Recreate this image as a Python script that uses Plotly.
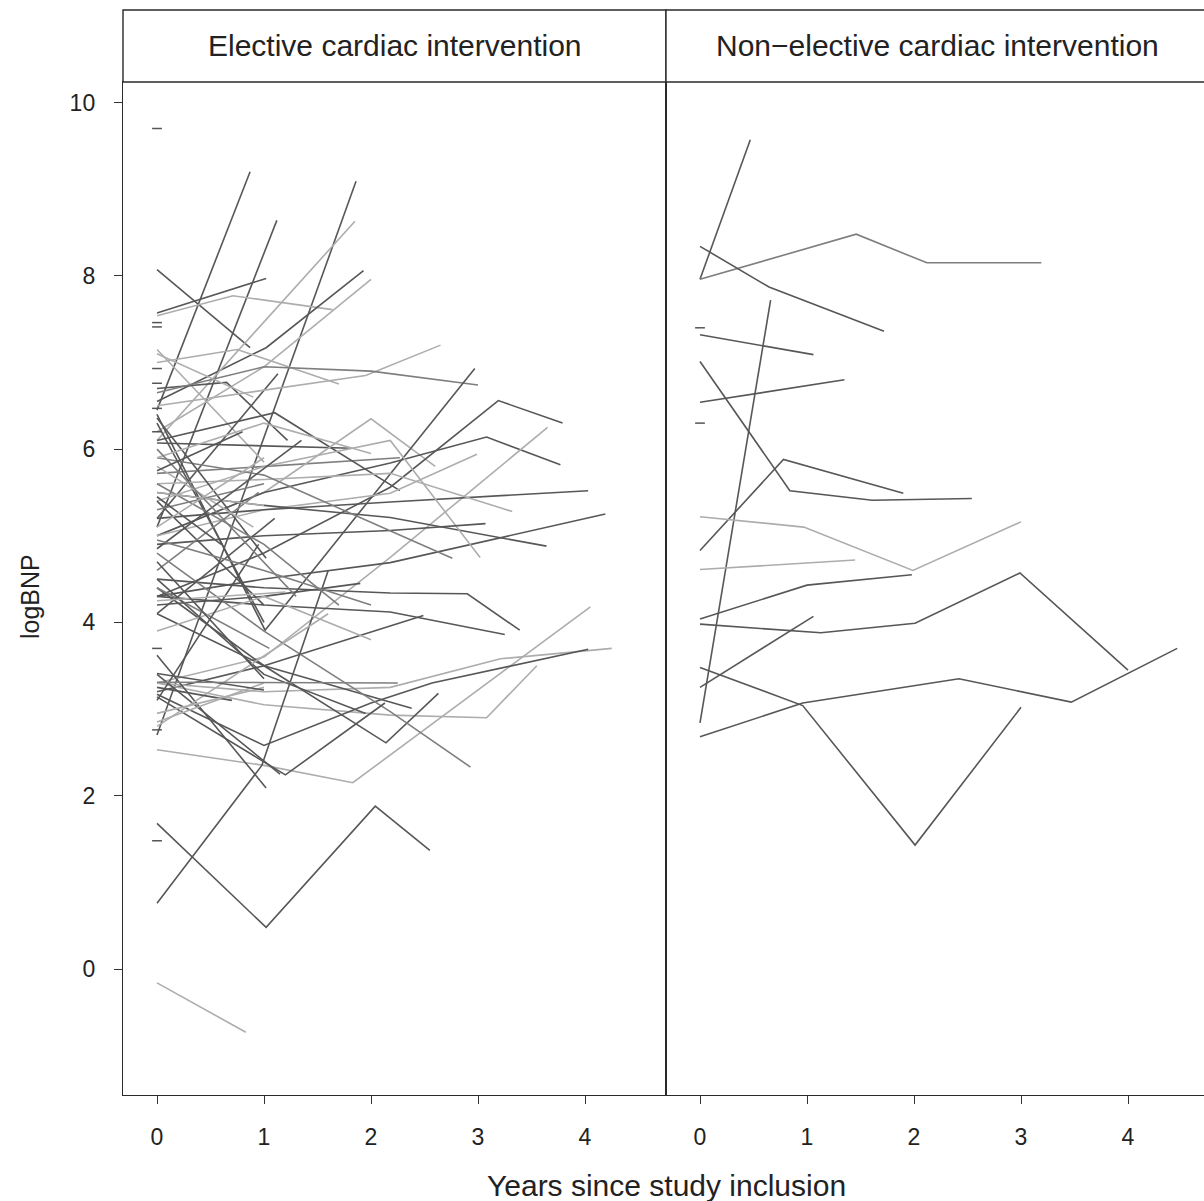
import plotly.graph_objects as go

# ---------------- data ----------------
panel_titles = ["Elective cardiac intervention", "Non\u2212elective cardiac intervention"]
x_title = "Years since study inclusion"
y_title = "logBNP"
x_ticks = [0, 1, 2, 3, 4]
y_ticks = [0, 2, 4, 6, 8, 10]

elective_years = [
    [0, 0.87], [0, 1.12], [0, 1.86], [0, 0.87], [0, 1.02],
    [0, 0.71, 1.64], [0, 1.02, 1.93], [0, 1.0, 2.0], [0, 1.85], [0, 1.0],
    [0, 0.75, 1.7], [0, 0.65, 1.22], [0, 1.13], [0, 1.82], [0, 2.27],
    [0, 1.1, 2.27], [0, 1.0, 2.0, 2.6], [0, 1.95, 2.65], [0, 1.0, 2.0, 3.0], [0, 1.01, 2.97],
    [0, 1.0, 2.18, 3.19, 3.79], [0, 1.0, 2.18, 3.08, 3.77], [0, 1.0, 2.18, 2.99], [0, 1.0, 2.18, 3.65], [0, 1.0, 2.18, 4.03],
    [0, 1.0, 2.18, 4.19], [0, 1.0, 2.18, 3.32], [0, 1.0, 2.18, 3.64], [0, 1.0, 2.18, 3.02], [0, 1.0, 2.18, 3.07],
    [0, 1.0, 2.76], [0, 1.0, 2.18, 2.9, 3.39], [0, 1.0, 2.18, 3.25], [0, 1.0, 2.49], [0, 1.0, 1.83, 4.05],
    [0, 1.0, 2.18, 3.08, 3.55], [0, 1.0, 2.18, 3.21, 4.25], [0, 1.0, 2.0, 2.57, 4.03], [0, 1.0, 2.38], [0, 1.0, 2.14, 2.63],
    [0, 1.0, 2.18, 2.93], [0, 1.02, 2.04, 2.55], [0, 0.98, 1.6], [0, 1.02], [0, 1.2, 2.13],
    [0, 0.83], [0, 1.02], [0, 1.0], [0, 1.0, 1.9], [0, 1.05],
    [0, 1.0], [0, 0.95], [0, 1.0, 2.0], [0, 0.9], [0, 1.1],
    [0, 1.0, 1.7], [0, 1.15], [0, 1.0], [0, 1.0, 1.95], [0, 0.95],
    [0, 1.0], [0, 1.0], [0, 1.2], [0, 1.6], [0, 0.7],
    [0, 1.0, 2.0], [0, 0.6], [0, 1.35], [0, 1.0], [0, 1.3],
    [0, 1.0], [0, 2.25], [0, 0.9], [0, 1.0, 2.0], [0, 1.0],
    [0, 0.8], [0, 1.0],
]
elective_logbnp = [
    [6.45, 9.2], [5.1, 8.64], [2.7, 9.09], [8.07, 7.17], [7.57, 7.97],
    [7.54, 7.77, 7.61], [6.55, 7.17, 8.06], [6.2, 6.95, 7.96], [6.1, 8.63], [7.15, 5.85],
    [7.0, 7.15, 6.75], [6.7, 6.77, 6.1], [5.2, 6.87], [6.07, 6.01], [5.72, 5.9],
    [6.1, 6.42, 5.52], [5.0, 5.5, 6.35, 5.8], [6.5, 6.85, 7.2], [6.65, 6.95, 6.9, 6.74], [6.4, 3.91, 6.93],
    [4.3, 4.8, 5.56, 6.56, 6.3], [5.0, 5.5, 5.84, 6.14, 5.82], [5.0, 5.3, 5.49, 5.94], [3.3, 3.6, 4.75, 6.25], [5.2, 5.3, 5.39, 5.52],
    [4.3, 4.5, 4.69, 5.25], [5.6, 5.65, 5.72, 5.28], [5.5, 5.35, 5.21, 4.88], [5.4, 5.8, 6.1, 4.75], [4.9, 5.0, 5.06, 5.14],
    [5.9, 5.7, 4.74], [4.5, 4.4, 4.34, 4.33, 3.91], [4.3, 4.2, 4.12, 3.86], [3.2, 3.5, 4.08], [2.53, 2.35, 2.15, 4.18],
    [3.3, 3.05, 2.93, 2.9, 3.5], [3.3, 3.2, 3.25, 3.58, 3.7], [3.17, 2.58, 3.07, 3.3, 3.69], [4.1, 3.5, 3.01], [4.4, 3.5, 2.61, 3.18],
    [4.8, 3.9, 2.97, 2.33], [1.68, 0.48, 1.88, 1.37], [0.76, 2.35, 4.6], [3.62, 2.09], [3.14, 2.24, 3.07],
    [-0.16, -0.73], [6.36, 4.74], [6.3, 4.0], [4.2, 4.3, 4.45], [4.4, 3.7],
    [5.4, 4.2], [4.6, 5.5], [3.9, 4.3, 3.8], [5.8, 5.1], [4.1, 5.2],
    [5.6, 4.9, 4.2], [3.4, 2.25], [2.85, 3.3], [4.5, 3.4, 2.95], [3.1, 4.9],
    [5.3, 5.6], [5.5, 5.35], [4.25, 4.35], [2.8, 4.1], [3.25, 3.1],
    [5.9, 6.3, 5.95], [5.45, 4.9], [4.85, 6.1], [2.95, 3.25], [6.0, 4.3],
    [3.41, 3.22], [3.31, 3.3], [7.1, 6.6], [4.95, 4.6, 4.2], [5.1, 5.9],
    [5.75, 6.2], [4.7, 3.35],
]
elective_single_logbnp = [9.70, 7.46, 7.41, 6.93, 6.76, 6.47, 6.2, 3.70, 2.76, 1.48]

nonelective_years = [
    [0, 0.47], [0, 1.46, 2.12, 3.19], [0, 0.645, 1.72], [0, 1.06], [0, 0.66],
    [0, 1.35], [0, 0.84, 1.61, 2.54], [0, 0.78, 1.9], [0, 0.97, 1.99, 3.0], [0, 1.45],
    [0, 1.0, 1.98], [0, 1.13, 2.01, 2.99, 4.0], [0, 0.96, 2.42, 3.47, 4.46], [0, 0.96, 2.01, 3.0], [0, 1.06],
]
nonelective_logbnp = [
    [7.96, 9.57], [7.96, 8.48, 8.15, 8.15], [8.34, 7.87, 7.36], [7.32, 7.09], [2.84, 7.72],
    [6.54, 6.8], [7.01, 5.52, 5.41, 5.43], [4.83, 5.88, 5.49], [5.22, 5.10, 4.60, 5.16], [4.61, 4.72],
    [4.04, 4.43, 4.55], [3.98, 3.88, 3.99, 4.57, 3.45], [2.68, 3.07, 3.35, 3.08, 3.70], [3.48, 3.04, 1.43, 3.02], [3.25, 4.07],
]
nonelective_single_logbnp = [7.40, 6.30]

# ---------------- styles ----------------
elective_tone = "".join(["ddddd", "ldlll", "ldddm", "dllmd", "ddlld",
                         "dldld", "mdddl", "llddd", "mdddd", "ldddm",
                         "dmlld", "mdldd", "mllld", "lddlm", "dmlml", "dd"])
nonelective_tone = "dmdddddd" "lldddddl"
GRAYS = {"d": "#575757", "m": "#7e7e7e", "l": "#adadad"}

FONT = "Liberation Sans, Arial, sans-serif"
W, H = 1204, 1201
ML, MR, MT, MB = 123, 0, 82, 106
PW, PH = W - ML - MR, H - MT - MB
PX_PER_YEAR = 107.0
LEFT_W = 543.0
split = LEFT_W / PW

fig = go.Figure()


def add_panel(years, values, tones, singles, xa, ya):
    for i, (xs, ys) in enumerate(zip(years, values)):
        t = tones[i % len(tones)]
        fig.add_trace(go.Scatter(x=xs, y=ys, mode="lines", xaxis=xa, yaxis=ya,
                                 line=dict(color=GRAYS[t], width=1.6),
                                 hoverinfo="skip", showlegend=False))
    fig.add_trace(go.Scatter(x=[0] * len(singles), y=singles, mode="markers",
                             xaxis=xa, yaxis=ya,
                             marker=dict(symbol="line-ew", size=7,
                                         line=dict(color="#555555", width=1.5)),
                             hoverinfo="skip", showlegend=False))


add_panel(elective_years, elective_logbnp, elective_tone, elective_single_logbnp, "x", "y")
add_panel(nonelective_years, nonelective_logbnp, nonelective_tone, nonelective_single_logbnp, "x2", "y2")

x0 = -34 / PX_PER_YEAR
common_x = dict(tickvals=x_ticks, ticks="outside", ticklen=8, tickwidth=1.2, tickcolor="#333",
                showline=True, mirror=True, linecolor="#2a2a2a", linewidth=1.4,
                showgrid=False, zeroline=False, ticklabelstandoff=13,
                tickfont=dict(family=FONT, size=23, color="#222"))
y_lo = (969 - 1095) / 86.65
y_hi = (969 - 82) / 86.65

fig.update_layout(
    width=W, height=H,
    margin=dict(l=ML, r=MR, t=MT, b=MB),
    paper_bgcolor="white", plot_bgcolor="white",
    xaxis=dict(domain=[0, split], range=[x0, x0 + LEFT_W / PX_PER_YEAR], anchor="y", **common_x),
    xaxis2=dict(domain=[split, 1], range=[x0, x0 + (PW - LEFT_W) / PX_PER_YEAR], anchor="y2", **common_x),
    yaxis=dict(domain=[0, 1], range=[y_lo, y_hi], tickvals=y_ticks, ticks="outside", ticklen=8,
               tickwidth=1.2, tickcolor="#333", showline=True, mirror=True, linecolor="#2a2a2a",
               linewidth=1.4, showgrid=False, zeroline=False, ticklabelstandoff=14,
               tickfont=dict(family=FONT, size=23, color="#222"), anchor="x"),
    yaxis2=dict(domain=[0, 1], matches="y", range=[y_lo, y_hi], showticklabels=False, ticks="",
                showline=True, mirror=True, linecolor="#2a2a2a", linewidth=1.4,
                showgrid=False, zeroline=False, anchor="x2"),
)

strip_top = 1 + (MT - 10) / PH
strip_mid = (1 + strip_top) / 2
strip_spans = [(0, split), (split, 2 * split)]
for (a, b), title in zip(strip_spans, panel_titles):
    fig.add_shape(type="rect", xref="paper", yref="paper", x0=a, x1=b, y0=1, y1=strip_top,
                  line=dict(color="#2a2a2a", width=1.4), fillcolor="white", layer="above")
    fig.add_annotation(xref="paper", yref="paper", x=(a + b) / 2, y=strip_mid, text=title,
                       showarrow=False, xanchor="center", yanchor="middle",
                       font=dict(family=FONT, size=30, color="#222"))

fig.add_annotation(xref="paper", yref="paper", x=(666 - ML) / PW, y=(H - MB - 1185) / PH,
                   text=x_title, showarrow=False, xanchor="center", yanchor="middle",
                   font=dict(family=FONT, size=30, color="#222"))
fig.add_annotation(xref="paper", yref="paper", x=(30 - ML) / PW, y=(H - MB - 597) / PH,
                   text=y_title, textangle=-90, showarrow=False, xanchor="center", yanchor="middle",
                   font=dict(family=FONT, size=25, color="#222"))

fig.write_html("out.html")
